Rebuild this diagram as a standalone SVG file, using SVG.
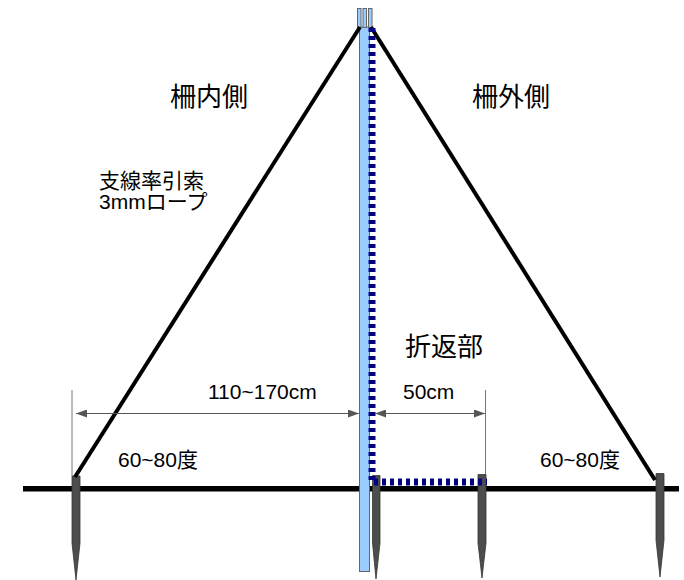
<svg xmlns="http://www.w3.org/2000/svg" width="684" height="580" viewBox="0 0 684 580">
<style>
.t{font-family:"Liberation Sans","Noto Sans CJK JP",sans-serif;fill:#000}
.stake{fill:#4d4d4d;stroke:#333;stroke-width:.8}
.dim{stroke:#555;stroke-width:1;fill:none}
.ext{stroke:#777;stroke-width:1;fill:none}
.tine{fill:#99ccff;stroke:#666;stroke-width:1}
</style>
<defs>
<marker id="a" markerUnits="userSpaceOnUse" markerWidth="12" markerHeight="8" refX="11" refY="4" orient="auto-start-reverse"><path d="M0 0L11 4L0 8z" fill="#555"/></marker>
</defs>
<g id="ground"><rect x="23" y="486" width="656" height="5.500" fill="#000"/></g>
<g id="pole">
<rect x="359.500" y="27" width="10" height="544.500" fill="#99ccff" stroke="#666" stroke-width="1"/>
<rect class="tine" x="357.500" y="8.500" width="3.500" height="19"/>
<rect class="tine" x="363" y="8.500" width="3.500" height="19"/>
<rect class="tine" x="368.500" y="8.500" width="3.500" height="19"/>
</g>
<g id="stake-1"><path class="stake" d="M72 476H80V543L76 580L72 543z"/></g>
<g id="stake-2"><path class="stake" d="M372.500 475.500H380V543L376 579L372.500 543z"/></g>
<g id="stake-3"><path class="stake" d="M478 474.500H486V543L482 578L478 543z"/></g>
<g id="stake-4"><path class="stake" d="M656 473.500H664V540L660 577L656 540z"/></g>
<g id="connectors" fill="none">
<path d="M360 27L75 477" stroke="#000" stroke-width="4"/>
<path d="M371 27L655 480" stroke="#000" stroke-width="4"/>
<path d="M372 28V482H487" stroke="#000080" stroke-width="7" stroke-dasharray="4 4"/>
<path class="ext" d="M72 390V476"/>
<path class="ext" d="M485.500 390V474"/>
<path class="dim" d="M76 413.500H359" marker-start="url(#a)" marker-end="url(#a)"/>
<path class="dim" d="M375 413.500H485" marker-start="url(#a)" marker-end="url(#a)"/>
</g>
<g id="labels">
<text class="t" x="170" y="106" font-size="26">柵内側</text>
<text class="t" x="472" y="106" font-size="26">柵外側</text>
<text class="t" x="99" y="188" font-size="21">支線率引索</text>
<text class="t" x="99" y="209" font-size="21">3mmロープ</text>
<text class="t" x="405" y="356" font-size="26">折返部</text>
<text class="t" x="208" y="399" font-size="21">110~170cm</text>
<text class="t" x="403" y="399" font-size="21">50cm</text>
<text class="t" x="118" y="467" font-size="21">60~80度</text>
<text class="t" x="540" y="467" font-size="21">60~80度</text>
</g>
</svg>
